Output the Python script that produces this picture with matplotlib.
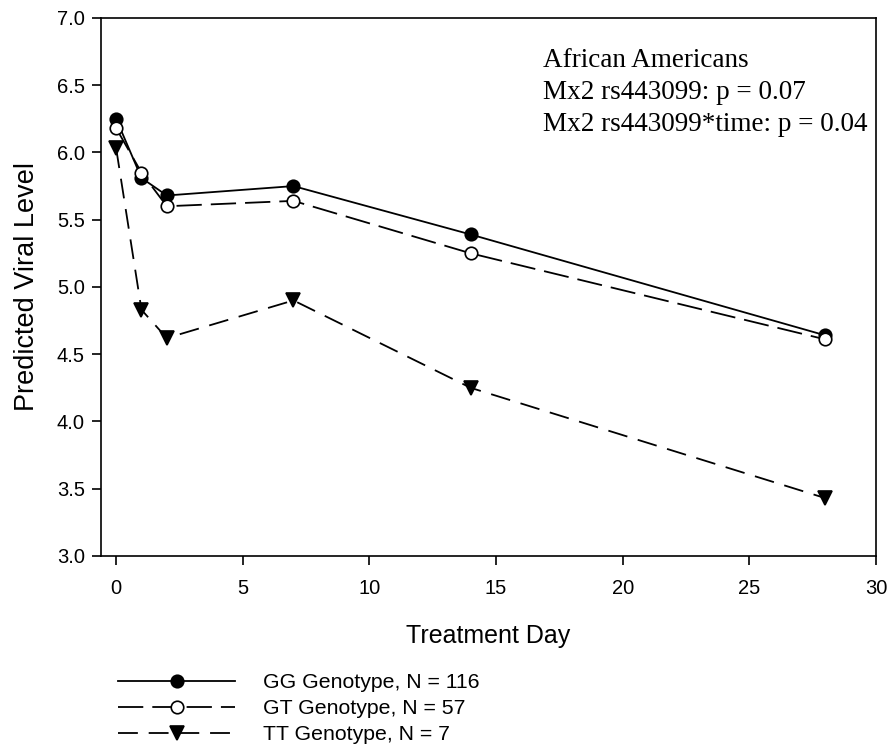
import matplotlib as mpl
mpl.use('Agg')
import matplotlib.pyplot as plt

plt.rcParams['font.family'] = ['Liberation Sans', 'DejaVu Sans']

days = [0, 1, 2, 7, 14, 28]
gg_level = [6.25, 5.81, 5.68, 5.75, 5.39, 4.64]
gt_level = [6.18, 5.85, 5.60, 5.64, 5.25, 4.61]
tt_level = [6.03, 4.83, 4.62, 4.90, 4.25, 3.43]
series_labels = ['GG Genotype, N = 116', 'GT Genotype, N = 57', 'TT Genotype, N = 7']
annot_lines = ['African Americans', 'Mx2 rs443099: p = 0.07', 'Mx2 rs443099*time: p = 0.04']

fig = plt.figure(figsize=(8.88, 7.47), dpi=100)
ax = fig.add_axes([0.1137, 0.2557, 0.8728, 0.7203])

styles = [
    dict(linestyle='-', marker='o', mfc='black', markersize=9),
    dict(linestyle=(0, (14, 5)), marker='o', mfc='white', markersize=9),
    dict(linestyle=(0, (11, 6)), marker='v', mfc='black', markersize=10),
]
handles = []
for vals, st in zip([gg_level, gt_level, tt_level], styles):
    h, = ax.plot(days, vals, color='black', lw=1.3, mec='black', mew=1.2, **st)
    handles.append(h)

ax.set_xlim(-0.6, 30)
ax.set_ylim(3.0, 7.0)
ax.set_xticks(range(0, 31, 5))
ax.set_yticks([3.0, 3.5, 4.0, 4.5, 5.0, 5.5, 6.0, 6.5, 7.0])
ax.set_yticklabels([f'{v:.1f}' for v in ax.get_yticks()])
ax.tick_params(direction='out', length=6.5, width=1.2, labelsize=14.5, top=False, right=False)
ax.tick_params(axis='x', pad=10)
ax.tick_params(axis='y', pad=5)
for s in ax.spines.values():
    s.set_linewidth(1.2)

ax.set_xlabel('Treatment Day', fontsize=18, labelpad=19)
ax.set_ylabel('Predicted Viral Level', fontsize=19.5, labelpad=12)

# annotation block, one line per text so baselines sit where they should
for i, line in enumerate(annot_lines):
    ax.text(0.570, 0.908 - i * 0.0595, line, transform=ax.transAxes,
            family='Liberation Serif', fontsize=19.5, va='baseline', ha='left')

fig.legend(handles=handles, labels=series_labels, loc='upper left',
           bbox_to_anchor=(0.133, 0.099), frameon=False, fontsize=15.3,
           handlelength=5.5, handletextpad=1.3, labelspacing=0.34, borderpad=0,
           borderaxespad=0)

fig.savefig('out.png', dpi=100)
